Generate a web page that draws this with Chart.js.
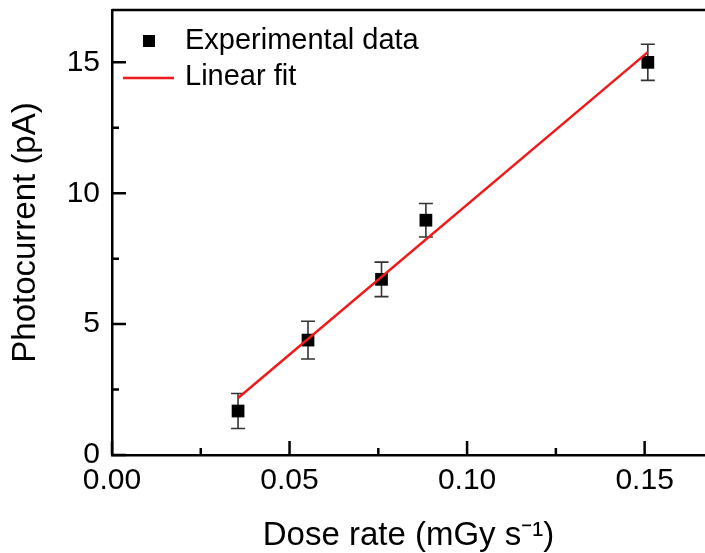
<!DOCTYPE html>
<html>
<head>
<meta charset="utf-8">
<script src="https://cdn.jsdelivr.net/npm/chart.js@4"></script>
<style>
  html, body { margin: 0; padding: 0; background: #fff; }
  #wrap { width: 705px; height: 553px; position: relative; }
</style>
</head>
<body>
<div id="wrap"><canvas id="chart"></canvas></div>
<script>
// Data
const doseRate = [0.0355, 0.0552, 0.0759, 0.0884, 0.1509];
const photocurrent = [1.68, 4.39, 6.71, 8.97, 15.0];
const errorBars = [0.67, 0.72, 0.66, 0.64, 0.69];
const fitX = [0.0355, 0.1509];
const fitY = [2.18, 15.39];

const xTicks = [0.00, 0.05, 0.10, 0.15];
const yTicks = [0, 5, 10, 15];

const FONT = "'Liberation Sans', Arial, Helvetica, sans-serif";
const RED = '#f01a1a';

// error bars behind the markers
const errorBarPlugin = {
    id: 'errorBars',
    beforeDatasetsDraw(chart) {
        const { ctx, scales: { x, y } } = chart;
        ctx.save();
        ctx.strokeStyle = '#333';
        ctx.lineWidth = 1.6;
        for (let i = 0; i < doseRate.length; i++) {
            const px = x.getPixelForValue(doseRate[i]);
            const top = y.getPixelForValue(photocurrent[i] + errorBars[i]);
            const bot = y.getPixelForValue(photocurrent[i] - errorBars[i]);
            ctx.beginPath();
            ctx.moveTo(px, top); ctx.lineTo(px, bot);
            ctx.moveTo(px - 7, top); ctx.lineTo(px + 7, top);
            ctx.moveTo(px - 7, bot); ctx.lineTo(px + 7, bot);
            ctx.stroke();
        }
        ctx.restore();
    }
};

// inward ticks, top frame and legend inside the plot
const framePlugin = {
    id: 'frame',
    afterDraw(chart) {
        const { ctx, chartArea: area, scales: { x, y } } = chart;
        ctx.save();
        ctx.strokeStyle = '#000';
        ctx.lineWidth = 2.5;
        ctx.beginPath();
        ctx.moveTo(area.left, area.top);
        ctx.lineTo(area.right, area.top);
        ctx.stroke();

        ctx.beginPath();
        for (let v = 0; v <= 0.1675; v += 0.025) {
            const px = x.getPixelForValue(v);
            const len = Math.round(v * 1000) % 50 === 0 ? 14 : 7;
            ctx.moveTo(px, area.bottom); ctx.lineTo(px, area.bottom - len);
        }
        for (let v = 0; v <= 17; v += 2.5) {
            const py = y.getPixelForValue(v);
            const len = v % 5 === 0 ? 14 : 7;
            ctx.moveTo(area.left, py); ctx.lineTo(area.left + len, py);
        }
        ctx.stroke();

        // legend
        ctx.fillStyle = '#000';
        ctx.fillRect(143, 35, 12, 12);
        ctx.strokeStyle = RED;
        ctx.lineWidth = 2.5;
        ctx.beginPath();
        ctx.moveTo(123, 78); ctx.lineTo(174, 78);
        ctx.stroke();
        ctx.font = '29px ' + FONT;
        ctx.textBaseline = 'middle';
        ctx.fillStyle = '#000';
        ctx.fillText('Experimental data', 185, 41);
        ctx.fillText('Linear fit', 185, 77);
        ctx.restore();
    }
};

const ctx = document.getElementById('chart').getContext('2d');
new Chart(ctx, {
    type: 'scatter',
    data: {
        datasets: [
            {
                label: 'Experimental data',
                data: doseRate.map((d, i) => ({ x: d, y: photocurrent[i] })),
                pointStyle: 'rect',
                pointRadius: 9,
                pointBackgroundColor: '#000',
                pointBorderColor: '#000',
                pointBorderWidth: 0,
                order: 2
            },
            {
                type: 'line',
                label: 'Linear fit',
                data: fitX.map((d, i) => ({ x: d, y: fitY[i] })),
                borderColor: RED,
                borderWidth: 2.5,
                pointRadius: 0,
                fill: false,
                order: 1
            }
        ]
    },
    options: {
        responsive: true,
        maintainAspectRatio: false,
        animation: false,
        layout: { autoPadding: false, padding: { top: 10, left: 0, right: 0, bottom: 0 } },
        plugins: {
            legend: { display: false },
            tooltip: { enabled: false }
        },
        scales: {
            x: {
                type: 'linear',
                min: 0,
                max: 0.167,
                afterBuildTicks: (scale) => { scale.ticks = xTicks.map(v => ({ value: v })); },
                afterFit: (scale) => {
                    scale.height = 98;
                    scale.paddingLeft = 0;
                    scale.paddingRight = 0;
                },
                grid: { display: false, drawTicks: false },
                border: { display: true, color: '#000', width: 2.5 },
                ticks: {
                    color: '#000',
                    font: { family: FONT, size: 30 },
                    padding: 8,
                    callback: (v) => Number(v).toFixed(2)
                },
                title: {
                    display: true,
                    text: 'Dose rate (mGy s⁻¹)',
                    color: '#000',
                    font: { family: FONT, size: 33 },
                    padding: { top: 0, bottom: -3 }
                }
            },
            y: {
                min: 0,
                max: 17,
                afterBuildTicks: (scale) => { scale.ticks = yTicks.map(v => ({ value: v })); },
                afterFit: (scale) => {
                    scale.width = 112;
                    scale.paddingTop = 0;
                    scale.paddingBottom = 0;
                },
                grid: { display: false, drawTicks: false },
                border: { display: true, color: '#000', width: 2.5 },
                ticks: {
                    color: '#000',
                    font: { family: FONT, size: 30 },
                    padding: 12
                },
                title: {
                    display: true,
                    text: 'Photocurrent (pA)',
                    color: '#000',
                    font: { family: FONT, size: 33 },
                    padding: { top: 6, bottom: 0 }
                }
            }
        }
    },
    plugins: [errorBarPlugin, framePlugin]
});
</script>
</body>
</html>
